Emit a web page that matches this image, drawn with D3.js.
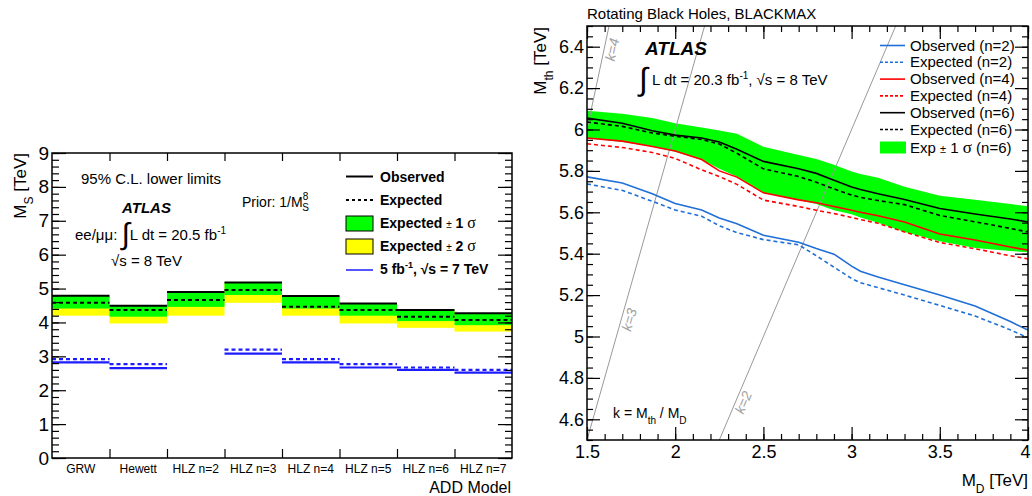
<!DOCTYPE html>
<html>
<head>
<meta charset="utf-8">
<script src="https://cdn.jsdelivr.net/npm/d3@7/dist/d3.min.js"></script>
<style>
body { margin: 0; background: #fff; }
text { font-family: "Liberation Sans", Arial, sans-serif; fill: #000; }
</style>
</head>
<body>
<div id="chart"></div>
<script>
// ---- left panel: ADD model lower limits on M_S
var models = ["GRW", "Hewett", "HLZ n=2", "HLZ n=3", "HLZ n=4", "HLZ n=5", "HLZ n=6", "HLZ n=7"];
var observed = [4.79, 4.49, 4.90, 5.18, 4.78, 4.56, 4.37, 4.27];
var expected = [4.58, 4.37, 4.66, 4.96, 4.46, 4.37, 4.17, 4.07];
var sigma1Lo = [4.41, 4.17, 4.46, 4.81, 4.41, 4.20, 4.04, 3.92];
var sigma2Lo = [4.20, 3.97, 4.20, 4.58, 4.20, 3.97, 3.84, 3.73];
var obs7TeV = [2.82, 2.65, null, 3.08, 2.82, 2.67, 2.60, 2.52];
var exp7TeV = [2.92, 2.77, null, 3.20, 2.92, 2.77, 2.67, 2.60];
var msTicks = [0, 1, 2, 3, 4, 5, 6, 7, 8, 9];

// ---- right panel: rotating black holes, M_th vs M_D
var mdGrid = [1.5, 1.7, 1.87, 2.0, 2.15, 2.25, 2.35, 2.5, 2.7, 2.8, 2.9, 3.0, 3.05, 3.15, 3.3, 3.5, 3.7, 3.9, 4.0];
var obsN6 = [6.055, 6.03, 5.994, 5.973, 5.959, 5.94, 5.905, 5.846, 5.81, 5.788, 5.755, 5.722, 5.71, 5.69, 5.662, 5.618, 5.592, 5.568, 5.553];
var expN6 = [6.036, 6.015, 5.983, 5.967, 5.952, 5.93, 5.885, 5.81, 5.773, 5.745, 5.713, 5.683, 5.672, 5.657, 5.637, 5.585, 5.554, 5.522, 5.505];
var bandN6Hi = [6.09, 6.076, 6.055, 6.03, 6.01, 5.995, 5.98, 5.917, 5.877, 5.858, 5.83, 5.797, 5.785, 5.767, 5.724, 5.68, 5.661, 5.64, 5.629];
var bandN6Lo = [5.959, 5.94, 5.918, 5.892, 5.854, 5.81, 5.772, 5.694, 5.66, 5.64, 5.61, 5.59, 5.575, 5.55, 5.505, 5.46, 5.428, 5.413, 5.407];
var obsN4 = [5.959, 5.944, 5.918, 5.896, 5.855, 5.80, 5.77, 5.694, 5.66, 5.646, 5.628, 5.61, 5.6, 5.583, 5.553, 5.495, 5.466, 5.432, 5.417];
var expN4 = [5.931, 5.913, 5.889, 5.86, 5.805, 5.773, 5.735, 5.659, 5.628, 5.61, 5.594, 5.575, 5.565, 5.547, 5.505, 5.454, 5.424, 5.39, 5.375];
var obsN2 = [5.771, 5.742, 5.69, 5.642, 5.611, 5.572, 5.545, 5.489, 5.455, 5.425, 5.398, 5.34, 5.315, 5.287, 5.25, 5.2, 5.147, 5.072, 5.031];
var expN2 = [5.737, 5.706, 5.653, 5.611, 5.581, 5.535, 5.502, 5.468, 5.443, 5.39, 5.335, 5.28, 5.26, 5.236, 5.2, 5.15, 5.099, 5.032, 4.994];
var kValues = [2, 3, 4];
var mdTicks = [1.5, 2, 2.5, 3, 3.5, 4];
var mthTicks = [4.6, 4.8, 5, 5.2, 5.4, 5.6, 5.8, 6, 6.2, 6.4];

var svg = d3.select("#chart")
    .append("svg")
    .attr("width", 1032)
    .attr("height", 496);

// ===================== left panel =====================
var L = {left: 52, top: 153, width: 460, height: 305};
var gL = svg.append("g").attr("transform", `translate(${L.left},${L.top})`);

var xBin = d3.scaleLinear().domain([0, models.length]).range([0, L.width]);
var yL = d3.scaleLinear().domain([0, 9]).range([L.height, 0]);
var binW = xBin(1) - xBin(0);

// bands
gL.selectAll("rect.y2").data(models).join("rect")
    .attr("x", (d, i) => xBin(i)).attr("width", binW)
    .attr("y", (d, i) => yL(observed[i]))
    .attr("height", (d, i) => yL(sigma2Lo[i]) - yL(observed[i]))
    .attr("fill", "#ffff00");
gL.selectAll("rect.g1").data(models).join("rect")
    .attr("x", (d, i) => xBin(i)).attr("width", binW)
    .attr("y", (d, i) => yL(observed[i]))
    .attr("height", (d, i) => yL(sigma1Lo[i]) - yL(observed[i]))
    .attr("fill", "#00ff00");

function binLines(g, vals, color, dash, width) {
    g.append("g").selectAll("line")
        .data(vals.map((v, i) => [i, v]).filter(d => d[1] != null))
        .join("line")
        .attr("x1", d => xBin(d[0])).attr("x2", d => xBin(d[0] + 1))
        .attr("y1", d => yL(d[1])).attr("y2", d => yL(d[1]))
        .attr("stroke", color).attr("stroke-width", width)
        .attr("stroke-dasharray", dash);
}
binLines(gL, observed, "#000", null, 2);
binLines(gL, expected, "#000", "4,3", 2);
binLines(gL, obs7TeV, "#1c1cff", null, 2.2);
binLines(gL, exp7TeV, "#1c1cff", "4,3", 2.2);

// axes (ticks inside the frame, ROOT style)
function styleAxis(a) {
    a.select(".domain").remove();
    a.selectAll("line").attr("stroke", "#000").attr("stroke-width", 1.2);
}
var minorMs = d3.range(0, 46).map(d => d * 0.2);
gL.append("g").call(d3.axisLeft(yL).tickValues(minorMs).tickSize(-7).tickFormat("")).call(styleAxis);
gL.append("g").call(d3.axisLeft(yL).tickValues(msTicks).tickSize(-14).tickPadding(3))
    .call(styleAxis)
    .selectAll("text").style("font-size", "19px");
gL.append("g").attr("transform", `translate(${L.width},0)`)
    .call(d3.axisRight(yL).tickValues(minorMs).tickSize(-7).tickFormat("")).call(styleAxis);
gL.append("g").attr("transform", `translate(${L.width},0)`)
    .call(d3.axisRight(yL).tickValues(msTicks).tickSize(-14).tickFormat("")).call(styleAxis);
gL.append("g").attr("transform", `translate(0,${L.height})`)
    .call(d3.axisBottom(xBin).tickValues(d3.range(1, models.length)).tickSize(-9).tickFormat("")).call(styleAxis);
gL.append("g")
    .call(d3.axisTop(xBin).tickValues(d3.range(1, models.length)).tickSize(-8).tickFormat("")).call(styleAxis);
gL.append("rect").attr("width", L.width).attr("height", L.height)
    .attr("fill", "none").attr("stroke", "#000").attr("stroke-width", 1.5);

gL.selectAll("text.cat").data(models).join("text")
    .attr("x", (d, i) => xBin(i + 0.5)).attr("y", L.height + 15)
    .attr("text-anchor", "middle").style("font-size", "12px").text(d => d);

svg.append("text").attr("x", 511).attr("y", 493).attr("text-anchor", "end")
    .style("font-size", "16px").text("ADD Model");

var tY = svg.append("text").attr("transform", "translate(26,153) rotate(-90)")
    .attr("text-anchor", "end").style("font-size", "17px");
tY.append("tspan").text("M");
tY.append("tspan").attr("baseline-shift", "sub").style("font-size", "12px").text("S");
tY.append("tspan").text(" [TeV]");

// annotations
svg.append("text").attr("x", 81).attr("y", 184).style("font-size", "15px").text("95% C.L. lower limits");
svg.append("text").attr("x", 122).attr("y", 213).style("font-size", "15px")
    .style("font-weight", "bold").style("font-style", "italic").text("ATLAS");
var lum = svg.append("text").attr("x", 75).attr("y", 240).style("font-size", "15px");
lum.append("tspan").text("ee/μμ: ");
lum.append("tspan").style("font-size", "30px").attr("dy", 4).text("∫");
lum.append("tspan").attr("dy", -4).text("L dt = 20.5 fb");
lum.append("tspan").attr("dy", -6).style("font-size", "10px").text("-1");
svg.append("text").attr("x", 111).attr("y", 266).style("font-size", "15px").text("√s = 8 TeV");
var prior = svg.append("text").attr("x", 242).attr("y", 207).style("font-size", "14px");
prior.append("tspan").text("Prior: 1/M");
prior.append("tspan").attr("dy", -7).style("font-size", "10px").text("8");
prior.append("tspan").attr("dx", -6).attr("dy", 11).style("font-size", "10px").text("S");

// legend, left
var legL = svg.append("g");
legL.append("line").attr("x1", 346).attr("x2", 373).attr("y1", 176.5).attr("y2", 176.5)
    .attr("stroke", "#000").attr("stroke-width", 2);
legL.append("line").attr("x1", 346).attr("x2", 373).attr("y1", 200).attr("y2", 200)
    .attr("stroke", "#000").attr("stroke-width", 2).attr("stroke-dasharray", "3,3");
legL.append("rect").attr("x", 346).attr("y", 216).attr("width", 27).attr("height", 15)
    .attr("fill", "#00ff00").attr("stroke", "#000");
legL.append("rect").attr("x", 346).attr("y", 239).attr("width", 27).attr("height", 15)
    .attr("fill", "#ffff00").attr("stroke", "#000");
legL.append("line").attr("x1", 346).attr("x2", 373).attr("y1", 270).attr("y2", 270)
    .attr("stroke", "#1c1cff").attr("stroke-width", 1.5);
function legText(y, parts) {
    var t = legL.append("text").attr("x", 380).attr("y", y)
        .style("font-size", "14px").style("font-weight", "bold");
    parts.forEach(p => {
        var s = t.append("tspan").text(p.t);
        if (p.style) Object.entries(p.style).forEach(e => s.style(e[0], e[1]));
        if (p.dy) s.attr("dy", p.dy);
    });
}
legText(182, [{t: "Observed"}]);
legText(205, [{t: "Expected"}]);
legText(228, [{t: "Expected "}, {t: "±", style: {"font-size": "10px", "font-weight": "normal"}},
    {t: " 1 "}, {t: "σ", style: {"font-family": "Liberation Serif", "font-weight": "normal", "font-size": "16px"}}]);
legText(251, [{t: "Expected "}, {t: "±", style: {"font-size": "10px", "font-weight": "normal"}},
    {t: " 2 "}, {t: "σ", style: {"font-family": "Liberation Serif", "font-weight": "normal", "font-size": "16px"}}]);
legText(274, [{t: "5 fb"}, {t: "-1", style: {"font-size": "9px"}, dy: -6}, {t: ",  √s = 7 TeV", dy: 6}]);

// ===================== right panel =====================
var R = {left: 587, top: 26, width: 441, height: 414};
var gR = svg.append("g").attr("transform", `translate(${R.left},${R.top})`);
var xR = d3.scaleLinear().domain([1.5, 4]).range([0, R.width]);
var yR = d3.scaleLinear().domain([4.5, 6.5]).range([R.height, 0]);

gR.append("clipPath").attr("id", "clipR").append("rect")
    .attr("width", R.width).attr("height", R.height);
var plotR = gR.append("g").attr("clip-path", "url(#clipR)");

var zip = vals => mdGrid.map((m, i) => [m, vals[i]]);
var lineR = d3.line().x(d => xR(d[0])).y(d => yR(d[1]));

plotR.append("path")
    .datum(mdGrid.map((m, i) => [m, bandN6Lo[i], bandN6Hi[i]]))
    .attr("fill", "#00ff00")
    .attr("d", d3.area().x(d => xR(d[0])).y0(d => yR(d[1])).y1(d => yR(d[2])));

// k = M_th / M_D lines
kValues.forEach(k => {
    plotR.append("line")
        .attr("x1", xR(4.5 / k)).attr("y1", yR(4.5))
        .attr("x2", xR(6.5 / k)).attr("y2", yR(6.5))
        .attr("stroke", "#999").attr("stroke-width", 1);
});

var series = [
    {v: obsN2, c: "#1f6fd6", dash: null},
    {v: expN2, c: "#1f6fd6", dash: "4,3"},
    {v: obsN4, c: "#ff0000", dash: null},
    {v: expN4, c: "#ff0000", dash: "4,3"},
    {v: obsN6, c: "#000000", dash: null},
    {v: expN6, c: "#000000", dash: "4,3"}
];
series.forEach(s => {
    plotR.append("path").datum(zip(s.v))
        .attr("fill", "none").attr("stroke", s.c).attr("stroke-width", 1.6)
        .attr("stroke-dasharray", s.dash).attr("d", lineR);
});

// k labels along the lines
[{k: 4, m: 6.385}, {k: 3, m: 5.08}, {k: 2, m: 4.68}].forEach(o => {
    var px = xR(o.m / o.k) + 9, py = yR(o.m);
    var ang = Math.atan((o.k * (yR(4.5) - yR(5.5))) / (xR(2.5) - xR(1.5))) * 180 / Math.PI;
    gR.append("text").attr("transform", `translate(${px},${py}) rotate(${-ang})`)
        .attr("text-anchor", "middle").attr("dy", 4)
        .style("font-size", "14px").style("font-style", "italic").style("fill", "#a0a0a0")
        .text("k=" + o.k);
});

var minorMd = d3.range(0, 26).map(d => 1.5 + d * 0.1);
var minorMth = d3.range(0, 41).map(d => 4.5 + d * 0.05);
gR.append("g").attr("transform", `translate(0,${R.height})`)
    .call(d3.axisBottom(xR).tickValues(minorMd).tickSize(-6).tickFormat("")).call(styleAxis);
var xAxR = gR.append("g").attr("transform", `translate(0,${R.height})`)
    .call(d3.axisBottom(xR).tickValues(mdTicks).tickSize(-13).tickPadding(5).tickFormat(d => d))
    .call(styleAxis);
xAxR.selectAll("text").style("font-size", "18px");
xAxR.selectAll("text").filter(d => d === 4).attr("dx", -3);
gR.append("g").call(d3.axisTop(xR).tickValues(minorMd).tickSize(-6).tickFormat("")).call(styleAxis);
gR.append("g").call(d3.axisTop(xR).tickValues(mdTicks).tickSize(-13).tickFormat("")).call(styleAxis);
gR.append("g").call(d3.axisLeft(yR).tickValues(minorMth).tickSize(-6).tickFormat("")).call(styleAxis);
gR.append("g").call(d3.axisLeft(yR).tickValues(mthTicks).tickSize(-13).tickPadding(3)
        .tickFormat(d => +d.toFixed(1)))
    .call(styleAxis).selectAll("text").style("font-size", "18px");
gR.append("g").attr("transform", `translate(${R.width},0)`)
    .call(d3.axisRight(yR).tickValues(minorMth).tickSize(-6).tickFormat("")).call(styleAxis);
gR.append("g").attr("transform", `translate(${R.width},0)`)
    .call(d3.axisRight(yR).tickValues(mthTicks).tickSize(-13).tickFormat("")).call(styleAxis);
gR.append("rect").attr("width", R.width).attr("height", R.height)
    .attr("fill", "none").attr("stroke", "#000").attr("stroke-width", 1.5);

svg.append("text").attr("x", 587).attr("y", 19).style("font-size", "15px")
    .text("Rotating Black Holes, BLACKMAX");
var tX = svg.append("text").attr("x", 1028).attr("y", 486).attr("text-anchor", "end")
    .style("font-size", "17px");
tX.append("tspan").text("M");
tX.append("tspan").attr("baseline-shift", "sub").style("font-size", "12px").text("D");
tX.append("tspan").text(" [TeV]");
var tY2 = svg.append("text").attr("transform", "translate(546,27) rotate(-90)")
    .attr("text-anchor", "end").style("font-size", "17px");
tY2.append("tspan").text("M");
tY2.append("tspan").attr("baseline-shift", "sub").style("font-size", "12px").text("th");
tY2.append("tspan").text(" [TeV]");

svg.append("text").attr("x", 645).attr("y", 55).style("font-size", "19px")
    .style("font-weight", "bold").style("font-style", "italic").text("ATLAS");
var lumR = svg.append("text").attr("x", 639).attr("y", 85).style("font-size", "15px");
lumR.append("tspan").style("font-size", "32px").attr("dy", 5).text("∫");
lumR.append("tspan").attr("dy", -5).text(" L dt = 20.3 fb");
lumR.append("tspan").attr("dy", -6).style("font-size", "10px").text("-1");
lumR.append("tspan").attr("dy", 6).text(", √s = 8 TeV");

var kLab = svg.append("text").attr("x", 613).attr("y", 418).style("font-size", "14px");
kLab.append("tspan").text("k = M");
kLab.append("tspan").attr("baseline-shift", "sub").style("font-size", "10px").text("th");
kLab.append("tspan").text(" / M");
kLab.append("tspan").attr("baseline-shift", "sub").style("font-size", "10px").text("D");

// legend, right
var legR = [
    {t: "Observed (n=2)", c: "#1f6fd6", dash: null},
    {t: "Expected (n=2)", c: "#1f6fd6", dash: "3,2"},
    {t: "Observed (n=4)", c: "#ff0000", dash: null},
    {t: "Expected (n=4)", c: "#ff0000", dash: "3,2"},
    {t: "Observed (n=6)", c: "#000000", dash: null},
    {t: "Expected (n=6)", c: "#000000", dash: "3,2"}
];
var gLeg = svg.append("g");
legR.forEach((d, i) => {
    var y = 45.5 + i * 16.8;
    gLeg.append("line").attr("x1", 880).attr("x2", 905).attr("y1", y).attr("y2", y)
        .attr("stroke", d.c).attr("stroke-width", 1.6).attr("stroke-dasharray", d.dash);
    gLeg.append("text").attr("x", 910).attr("y", y + 5).style("font-size", "15px").text(d.t);
});
gLeg.append("rect").attr("x", 880).attr("y", 141.5).attr("width", 26).attr("height", 12).attr("fill", "#00ff00");
var lastLeg = gLeg.append("text").attr("x", 910).attr("y", 152.5).style("font-size", "15px");
lastLeg.append("tspan").text("Exp ");
lastLeg.append("tspan").style("font-size", "11px").text("±");
lastLeg.append("tspan").text(" 1 ");
lastLeg.append("tspan").style("font-family", "Liberation Serif").style("font-size", "17px").text("σ");
lastLeg.append("tspan").text(" (n=6)");
</script>
</body>
</html>
